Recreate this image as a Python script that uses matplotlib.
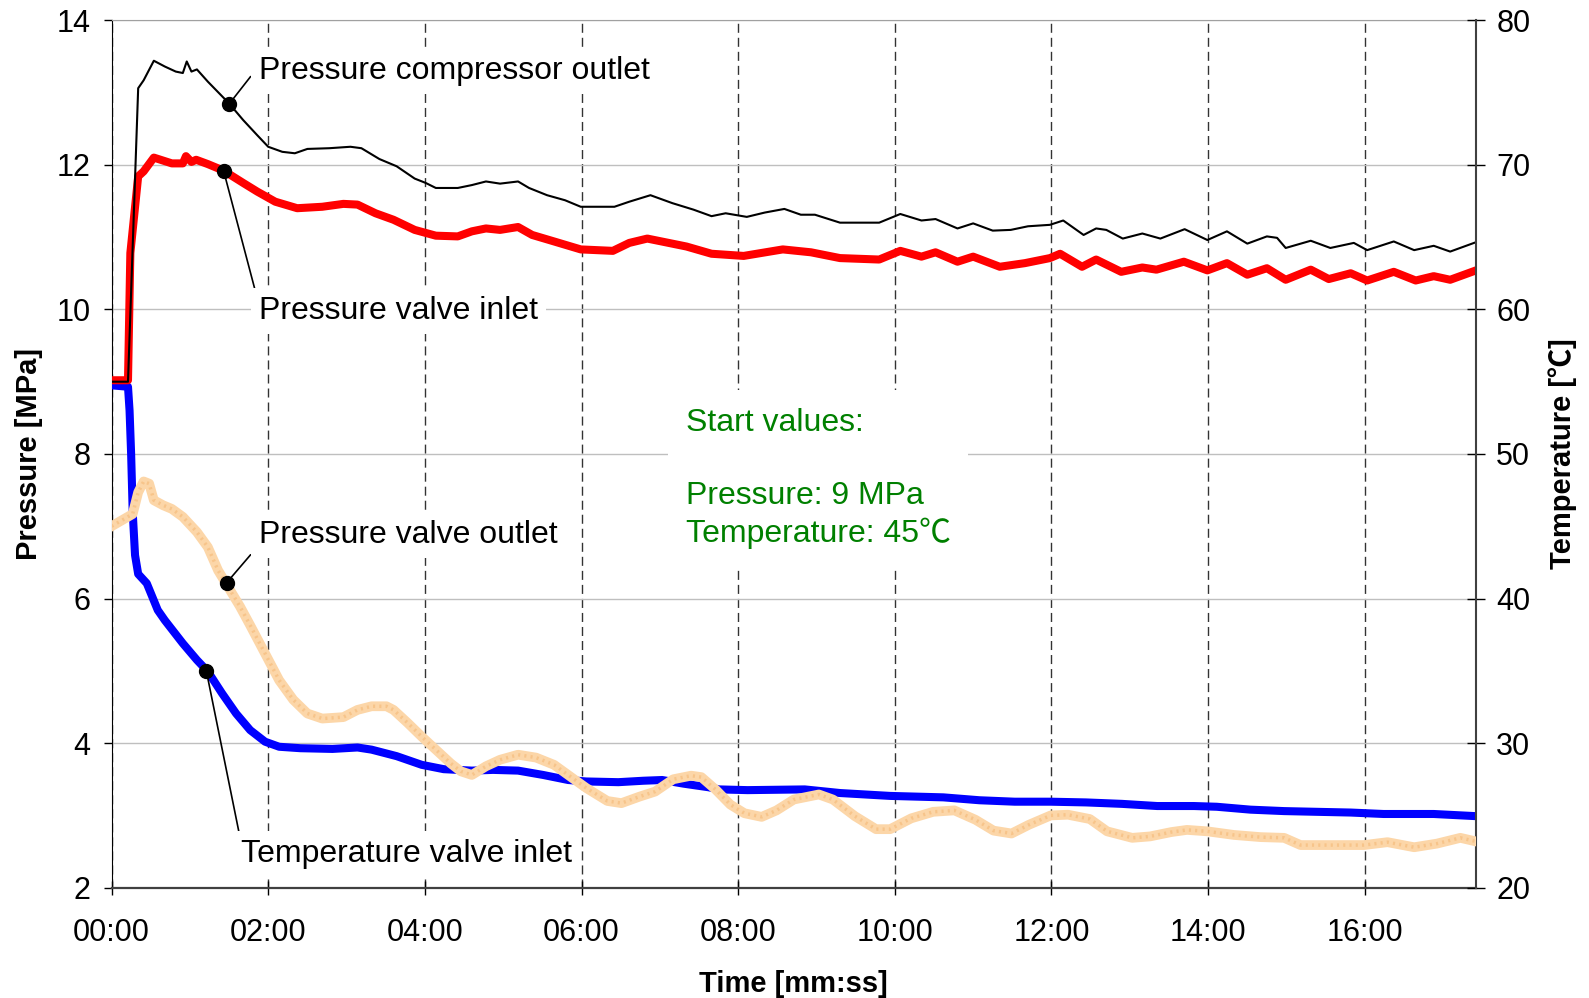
import numpy as np
import matplotlib
matplotlib.use("Agg")
import matplotlib.pyplot as plt

plt.rcParams['font.family'] = ['Liberation Sans', 'Noto Sans CJK SC', 'DejaVu Sans']

# time in minutes, pressure in MPa
compressor_out = np.array([
    [0.0, 9.0], [0.21, 9.0], [0.34, 13.06], [0.41, 13.17], [0.54, 13.44], [0.68, 13.36],
    [0.82, 13.29], [0.91, 13.27], [0.96, 13.43], [1.02, 13.29], [1.09, 13.32], [1.23, 13.15],
    [1.50, 12.85], [1.68, 12.62], [1.86, 12.41], [2.00, 12.25], [2.18, 12.18], [2.34, 12.16],
    [2.50, 12.22], [2.78, 12.23], [3.05, 12.25], [3.19, 12.23], [3.42, 12.08], [3.64, 11.98],
    [3.87, 11.81], [4.01, 11.75], [4.14, 11.68], [4.42, 11.68], [4.60, 11.72], [4.78, 11.77],
    [4.96, 11.74], [5.19, 11.77], [5.33, 11.68], [5.56, 11.58], [5.79, 11.51], [5.99, 11.42],
    [6.42, 11.42], [6.61, 11.49], [6.88, 11.58], [7.16, 11.47], [7.43, 11.38], [7.66, 11.29],
    [7.84, 11.33], [8.11, 11.28], [8.34, 11.34], [8.59, 11.39], [8.80, 11.31], [8.98, 11.31],
    [9.30, 11.20], [9.52, 11.20], [9.80, 11.20], [10.07, 11.32], [10.34, 11.23], [10.52, 11.25],
    [10.80, 11.12], [11.00, 11.19], [11.25, 11.09], [11.48, 11.10], [11.70, 11.15], [11.98, 11.17],
    [12.15, 11.23], [12.41, 11.03], [12.57, 11.12], [12.70, 11.10], [12.91, 10.98], [13.16, 11.05],
    [13.39, 10.98], [13.70, 11.11], [13.99, 10.96], [14.24, 11.08], [14.50, 10.91], [14.75, 11.01],
    [14.88, 10.99], [14.99, 10.85], [15.31, 10.95], [15.56, 10.85], [15.86, 10.92], [16.03, 10.82],
    [16.37, 10.94], [16.63, 10.82], [16.88, 10.88], [17.09, 10.80], [17.42, 10.93],
])

valve_in = np.array([
    [0.0, 9.02], [0.21, 9.02], [0.24, 10.78], [0.34, 11.84], [0.41, 11.91], [0.54, 12.10],
    [0.77, 12.02], [0.91, 12.02], [0.95, 12.12], [1.02, 12.04], [1.08, 12.07], [1.23, 12.01],
    [1.43, 11.92], [1.68, 11.75], [1.86, 11.63], [2.09, 11.49], [2.37, 11.40], [2.69, 11.42],
    [2.96, 11.46], [3.14, 11.45], [3.37, 11.33], [3.60, 11.24], [3.87, 11.10], [4.14, 11.02],
    [4.42, 11.01], [4.60, 11.08], [4.78, 11.12], [4.96, 11.10], [5.19, 11.14], [5.37, 11.03],
    [5.65, 10.94], [5.99, 10.83], [6.40, 10.81], [6.61, 10.92], [6.84, 10.98], [7.34, 10.87],
    [7.66, 10.77], [8.07, 10.74], [8.57, 10.83], [8.93, 10.79], [9.30, 10.71], [9.80, 10.69],
    [10.07, 10.81], [10.34, 10.73], [10.52, 10.79], [10.80, 10.66], [11.00, 10.73], [11.34, 10.59],
    [11.66, 10.64], [11.98, 10.71], [12.11, 10.77], [12.39, 10.59], [12.57, 10.69], [12.89, 10.52],
    [13.16, 10.58], [13.34, 10.55], [13.69, 10.66], [13.99, 10.54], [14.24, 10.64], [14.50, 10.48],
    [14.75, 10.57], [14.99, 10.41], [15.31, 10.55], [15.54, 10.42], [15.82, 10.50], [16.03, 10.40],
    [16.37, 10.52], [16.65, 10.40], [16.88, 10.46], [17.09, 10.41], [17.42, 10.54],
])

# blue line, MPa
valve_out = np.array([
    [0.0, 8.95], [0.21, 8.93], [0.23, 8.6], [0.25, 8.0], [0.27, 7.2], [0.30, 6.6], [0.34, 6.34],
    [0.45, 6.21], [0.59, 5.84], [0.68, 5.70], [0.91, 5.38], [1.09, 5.15], [1.23, 4.99],
    [1.41, 4.69], [1.59, 4.41], [1.77, 4.18], [1.96, 4.02], [2.14, 3.95], [2.41, 3.93],
    [2.82, 3.92], [3.14, 3.94], [3.32, 3.91], [3.64, 3.82], [3.96, 3.70], [4.24, 3.64],
    [4.60, 3.62], [4.87, 3.63], [5.19, 3.62], [5.51, 3.56], [5.83, 3.49], [6.06, 3.47],
    [6.47, 3.46], [6.79, 3.48], [7.03, 3.49], [7.30, 3.44], [7.62, 3.39], [7.76, 3.36],
    [8.12, 3.35], [8.85, 3.36], [9.30, 3.31], [9.94, 3.27], [10.62, 3.25], [11.08, 3.21],
    [11.53, 3.19], [11.99, 3.19], [12.44, 3.18], [12.90, 3.16], [13.35, 3.13], [13.82, 3.13],
    [14.11, 3.12], [14.54, 3.08], [14.97, 3.06], [15.39, 3.05], [15.82, 3.04], [16.24, 3.02],
    [16.88, 3.02], [17.42, 2.99],
])

# orange line, degC
temp_in = np.array([
    [0.0, 45.0], [0.27, 45.85], [0.34, 47.35], [0.41, 48.1], [0.48, 47.95], [0.54, 46.8],
    [0.66, 46.45], [0.77, 46.2], [0.91, 45.65], [1.09, 44.6], [1.23, 43.55], [1.36, 41.95],
    [1.50, 40.7], [1.64, 39.45], [1.77, 38.15], [1.96, 36.2], [2.14, 34.35], [2.32, 33.0],
    [2.50, 32.05], [2.69, 31.7], [2.96, 31.8], [3.14, 32.3], [3.32, 32.55], [3.51, 32.55],
    [3.60, 32.3], [3.78, 31.4], [3.96, 30.45], [4.14, 29.55], [4.33, 28.6], [4.46, 28.05],
    [4.60, 27.8], [4.78, 28.4], [4.96, 28.85], [5.19, 29.2], [5.42, 29.0], [5.65, 28.5],
    [5.88, 27.6], [6.06, 26.9], [6.33, 26.0], [6.51, 25.85], [6.74, 26.3], [6.94, 26.65],
    [7.17, 27.5], [7.40, 27.75], [7.53, 27.65], [7.71, 26.8], [7.90, 25.75], [8.08, 25.15],
    [8.30, 24.9], [8.49, 25.35], [8.71, 26.1], [9.03, 26.45], [9.21, 26.1], [9.49, 24.95],
    [9.76, 24.05], [9.94, 24.05], [10.21, 24.8], [10.49, 25.25], [10.76, 25.35], [11.03, 24.7],
    [11.26, 23.95], [11.49, 23.75], [11.71, 24.35], [11.99, 25.0], [12.21, 25.05], [12.49, 24.75],
    [12.71, 23.9], [13.03, 23.45], [13.26, 23.55], [13.53, 23.85], [13.73, 24.0], [13.99, 23.9],
    [14.33, 23.65], [14.67, 23.5], [14.97, 23.45], [15.18, 22.95], [15.60, 22.95], [15.99, 22.95],
    [16.29, 23.15], [16.63, 22.8], [16.92, 23.05], [17.22, 23.45], [17.42, 23.2],
])

x_ticks = [0, 2, 4, 6, 8, 10, 12, 14, 16]
x_labels = ['00:00', '02:00', '04:00', '06:00', '08:00', '10:00', '12:00', '14:00', '16:00']
p_ticks = [2, 4, 6, 8, 10, 12, 14]
t_ticks = [20, 30, 40, 50, 60, 70, 80]
t_end = 17.42

fig = plt.figure(figsize=(15.89, 9.98), dpi=100)
ax = fig.add_axes([0.0702, 0.1105, 0.8587, 0.8692])
ax2 = ax.twinx()

ax.plot(valve_out[:, 0], valve_out[:, 1], color='#0000FF', lw=5.8, solid_joinstyle='round', zorder=3)
ax.plot(valve_in[:, 0], valve_in[:, 1], color='#FF0000', lw=5.8, solid_joinstyle='round', zorder=4)
ax.plot(compressor_out[:, 0], compressor_out[:, 1], color='black', lw=1.5, zorder=5)
ax2.plot(temp_in[:, 0], temp_in[:, 1], color='#FCD6A8', lw=7, solid_joinstyle='round', zorder=3)
# speckled look of the original orange trace
ax2.plot(temp_in[:, 0], temp_in[:, 1], color='#F7C48A', lw=2.5, linestyle=(0, (0.6, 1.2)), zorder=3)

ax.set_xlim(0, t_end)
ax.set_ylim(2, 14)
ax2.set_ylim(20, 80)
ax.set_xticks(x_ticks)
ax.set_xticklabels(x_labels)
ax.set_yticks(p_ticks)
ax2.set_yticks(t_ticks)

ax.yaxis.grid(True, color='#BFBFBF', lw=1)
ax.xaxis.grid(True, color='#333333', lw=1, linestyle=(0, (6.5, 3.6)))
ax.set_axisbelow(True)

ax.spines['left'].set_color('black')
ax.spines['bottom'].set_color('#404040')
ax.spines['bottom'].set_linewidth(1.6)
ax.spines['top'].set_color('#A0A0A0')
ax2.spines['right'].set_color('#404040')
ax2.spines['right'].set_linewidth(1.5)
for s in ['left', 'top', 'bottom']:
    ax2.spines[s].set_visible(False)
ax.spines['right'].set_visible(False)

ax.tick_params(axis='x', direction='inout', length=10, width=1, labelsize=22, pad=17)
ax.tick_params(axis='y', direction='out', length=6, width=1, labelsize=22, pad=9)
ax2.tick_params(axis='y', direction='inout', length=13, width=1, labelsize=22, pad=8)

ax.set_xlabel('Time [mm:ss]', fontsize=21, fontweight='bold', labelpad=16)
ax.set_ylabel('Pressure [MPa]', fontsize=21, fontweight='bold', labelpad=10)
ax2.set_ylabel('Temperature [℃]', fontsize=21, fontweight='bold', labelpad=13)

# leader labels, drawn on top axis so boxes hide grid and lines
notes = [
    ('Pressure compressor outlet', (1.50, 12.84), (1.877, 13.30), (0, 0.65)),
    ('Pressure valve inlet', (1.43, 11.92), (1.877, 9.98), (0, 0.75)),
    ('Pressure valve outlet', (1.47, 6.22), (1.877, 6.88), (0, 0.15)),
    ('Temperature valve inlet', (1.21, 5.0), (1.657, 2.46), (0, 0.85)),
]
for txt, xy, xytext, rel in notes:
    ax2.annotate(txt, xy=xy, xycoords=ax.transData, xytext=xytext, textcoords=ax.transData,
                 fontsize=23, ha='left', va='center', zorder=10,
                 bbox=dict(boxstyle='square,pad=0.25', fc='white', ec='none'),
                 arrowprops=dict(arrowstyle='-', color='black', lw=1.2, shrinkA=0, shrinkB=0,
                                 relpos=rel))
    ax2.plot([xy[0]], [xy[1]], 'o', color='black', ms=10, transform=ax.transData, zorder=11)

ax2.text(7.33, 7.66, 'Start values:\n\nPressure: 9 MPa\nTemperature: 45℃', transform=ax.transData,
         fontsize=23, color='#008000', ha='left', va='center', linespacing=1.28, zorder=9,
         bbox=dict(boxstyle='square,pad=0.55', fc='white', ec='none'))

fig.savefig('out.png', dpi=100)
